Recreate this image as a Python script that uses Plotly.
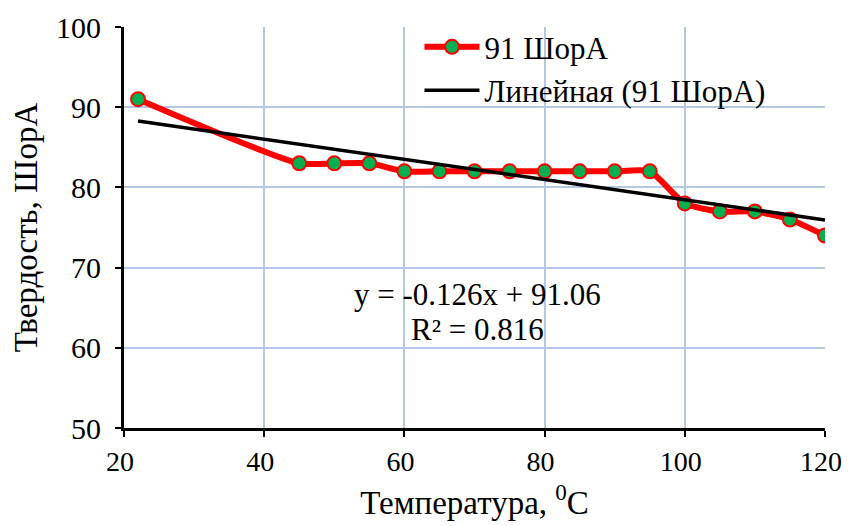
import plotly.graph_objects as go

temps = [22, 45, 50, 55, 60, 65, 70, 75, 80, 85, 90, 95, 100, 105, 110, 115, 120]
hardness = [91, 83, 83, 83, 82, 82, 82, 82, 82, 82, 82, 82, 78, 77, 77, 76, 74]
series_name = "91 ШорА"
trend_name = "Линейная (91 ШорА)"
slope = -0.126
intercept = 91.06
r2 = 0.816
x_ticks = [20, 40, 60, 80, 100, 120]
y_ticks = [50, 60, 70, 80, 90, 100]

trend_x = [temps[0], temps[-1]]
trend_y = [slope * x + intercept for x in trend_x]

FONT = "Liberation Serif"

fig = go.Figure()
fig.add_trace(go.Scatter(
    x=temps, y=hardness, name=series_name, mode="lines+markers",
    line=dict(color="#ff0000", width=6, shape="spline", smoothing=0.6),
    marker=dict(size=14, color="#00b050", line=dict(color="#ff0000", width=2)),
))
fig.add_trace(go.Scatter(
    x=trend_x, y=trend_y, name=trend_name, mode="lines",
    line=dict(color="#000000", width=3.5),
))

fig.add_annotation(
    x=0.504, y=0.285, xref="paper", yref="paper",
    text=f"y = {slope}x + {intercept}",
    showarrow=False, font=dict(family=FONT, size=31, color="black"),
)
fig.add_annotation(
    x=0.504, y=0.197, xref="paper", yref="paper",
    text=f"R² = {r2}",
    showarrow=False, font=dict(family=FONT, size=31, color="black"),
)

fig.update_layout(
    width=843, height=518,
    margin=dict(l=116, r=26, t=19, b=98),
    paper_bgcolor="white", plot_bgcolor="white",
    font=dict(family=FONT, size=30, color="black"),
    legend=dict(x=0.4215, y=1.017, xanchor="left", yanchor="top",
                bgcolor="rgba(0,0,0,0)", itemwidth=55,
                font=dict(family=FONT, size=31), tracegroupgap=0),
    xaxis=dict(
        range=[20, 120], tickvals=x_ticks, automargin=False,
        showgrid=True, gridcolor="#b4c7e7", gridwidth=1.5,
        showline=True, linecolor="black", linewidth=3,
        ticks="outside", ticklen=6, tickwidth=2, tickcolor="black",
        tickfont=dict(family=FONT, size=28), ticklabeloverflow="allow",
        ticklabelshift=-4,
        zeroline=False,
        title=dict(text="Температура, <sup>0</sup>C", font=dict(family=FONT, size=33), standoff=16),
    ),
    yaxis=dict(
        range=[50, 100], tickvals=y_ticks, automargin=False,
        showgrid=True, gridcolor="#b4c7e7", gridwidth=1.5,
        showline=True, linecolor="black", linewidth=3,
        ticks="outside", ticklen=6, tickwidth=2, tickcolor="black",
        tickfont=dict(family=FONT, size=30), ticklabelstandoff=8,
        zeroline=False,
        title=dict(text="Твердость, ШорА", font=dict(family=FONT, size=33), standoff=10),
    ),
)

fig.write_html("out.html")
